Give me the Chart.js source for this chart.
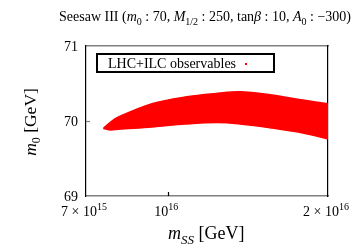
<!DOCTYPE html>
<html>
<head>
<meta charset="utf-8">
<script src="https://cdn.jsdelivr.net/npm/chart.js@4.4.1/dist/chart.umd.min.js"></script>
<style>
html,body{margin:0;padding:0;background:#fff;}
#wrap{width:361px;height:247px;position:relative;}
</style>
</head>
<body>
<div id="wrap"><canvas id="c" width="361" height="247"></canvas></div>
<script>
// ---- data ----
const mssEdge = [7.55e15, 7.8e15, 8.04e15, 9.32e15, 1.076e16, 1.241e16, 1.365e16, 1.555e16, 1.794e16, 2.0e16];
const m0Upper = [69.90, 69.99, 70.05, 70.23, 70.32, 70.37, 70.39, 70.35, 70.28, 70.23];
const m0Lower = [69.90, 69.88, 69.89, 69.92, 69.96, 69.98, 69.96, 69.91, 69.84, 69.76];
const xTickValues = [7e15, 1e16, 2e16];
const xTickLabels = [["7 \u00d7 10", "15"], ["10", "16"], ["2 \u00d7 10", "16"]];
const yTickValues = [69, 70, 71];
const yTickLabels = ["69", "70", "71"];
const seriesLabel = "LHC+ILC observables";
const titleRuns = [
  ["Seesaw III (", "r"], ["m", "i"], ["0", "sub"], [" : 70, ", "r"], ["M", "i"], ["1/2", "sub"],
  [" : 250, tan", "r"], ["\u03b2", "i"], [" : 10, ", "r"], ["A", "i"], ["0", "sub"], [" : \u2212300)", "r"]
];
const xTitleRuns = [["m", "i"], ["SS", "isub"], [" [GeV]", "r"]];
const yTitleRuns = [["m", "i"], ["0", "sub"], [" [GeV]", "r"]];

const SERIF = '"Liberation Serif", "DejaVu Serif", serif';

function runFont(kind, size) {
  if (kind === "i") return "italic " + size + "px " + SERIF;
  if (kind === "sub") return Math.round(size * 0.7) + "px " + SERIF;
  if (kind === "isub") return "italic " + Math.round(size * 0.7) + "px " + SERIF;
  if (kind === "sup") return Math.round(size * 0.7) + "px " + SERIF;
  return size + "px " + SERIF;
}
function runsWidth(ctx, runs, size) {
  let w = 0;
  for (const [t, k] of runs) { ctx.font = runFont(k, size); w += ctx.measureText(t).width; }
  return w;
}
function drawRuns(ctx, runs, x, y, size, align) {
  const w = runsWidth(ctx, runs, size);
  let cx = align === "center" ? x - w / 2 : (align === "right" ? x - w : x);
  ctx.textBaseline = "alphabetic";
  ctx.textAlign = "left";
  for (const [t, k] of runs) {
    ctx.font = runFont(k, size);
    let dy = 0;
    if (k === "sub" || k === "isub") dy = size * 0.25;
    if (k === "sup") dy = -size * 0.42;
    ctx.fillText(t, cx, y + dy);
    cx += ctx.measureText(t).width;
  }
}

const decor = {
  id: "decor",
  afterDraw(chart) {
    const ctx = chart.ctx;
    const xs = chart.scales.x, ys = chart.scales.y;
    const a = chart.chartArea;
    ctx.save();
    ctx.fillStyle = "#000";
    // title
    drawRuns(ctx, titleRuns, 205, 21, 14, "center");
    // inward ticks
    ctx.lineWidth = 1.2;
    ctx.strokeStyle = "#000";
    xTickValues.forEach(v => {
      const px = Math.round(xs.getPixelForValue(v)) + 0.5;
      if (px > a.left + 2 && px < a.right - 2) {
        ctx.beginPath(); ctx.moveTo(px, a.bottom); ctx.lineTo(px, a.bottom - 4); ctx.stroke();
      }
    });
    ctx.strokeStyle = "#808080";
    yTickValues.forEach(v => {
      const py = Math.round(ys.getPixelForValue(v)) + 0.5;
      if (py > a.top + 2 && py < a.bottom - 2) {
        ctx.beginPath(); ctx.moveTo(a.left, py); ctx.lineTo(a.left + 4, py); ctx.stroke();
      }
    });
    // x tick labels
    xTickValues.forEach((v, i) => {
      const px = xs.getPixelForValue(v);
      drawRuns(ctx, [[xTickLabels[i][0], "r"], [xTickLabels[i][1], "sup"]], px - 2, 216, 14, "center");
    });
    // y tick labels
    yTickValues.forEach((v, i) => {
      const py = ys.getPixelForValue(v);
      ctx.font = "14px " + SERIF;
      ctx.textAlign = "right";
      ctx.textBaseline = "middle";
      ctx.fillText(yTickLabels[i], 78, py + 1);
    });
    // axis titles
    drawRuns(ctx, xTitleRuns, 168, 239, 18, "left");
    ctx.save();
    ctx.translate(36, 122);
    ctx.rotate(-Math.PI / 2);
    drawRuns(ctx, yTitleRuns, 0, 0, 17.5, "center");
    ctx.restore();
    // legend box
    ctx.fillStyle = "#fff";
    ctx.fillRect(97, 54, 177, 18);
    ctx.strokeStyle = "#000";
    ctx.lineWidth = 2;
    ctx.strokeRect(97, 54, 177, 18);
    ctx.fillStyle = "#000";
    ctx.font = "14px " + SERIF;
    ctx.textAlign = "left";
    ctx.textBaseline = "alphabetic";
    ctx.fillText(seriesLabel, 108, 68);
    ctx.fillStyle = "#ff0000";
    ctx.fillRect(245, 63, 2, 2);
    ctx.restore();
  }
};

const upperPts = mssEdge.map((x, i) => ({x: x, y: m0Upper[i]}));
const lowerPts = mssEdge.map((x, i) => ({x: x, y: m0Lower[i]}));

new Chart(document.getElementById("c"), {
  type: "line",
  data: {
    datasets: [
      {label: seriesLabel, data: upperPts, borderColor: "#ff0000", borderWidth: 1.5, pointRadius: 0, fill: false, tension: 0.35},
      {label: seriesLabel + " (lower)", data: lowerPts, borderColor: "#ff0000", borderWidth: 1.5, pointRadius: 0, fill: "-1", backgroundColor: "#ff0000", tension: 0.35}
    ]
  },
  options: {
    responsive: false,
    animation: false,
    events: [],
    layout: {padding: 0},
    plugins: {legend: {display: false}, title: {display: false}, tooltip: {enabled: false}},
    scales: {
      x: {
        type: "logarithmic", position: "bottom", min: 7e15, max: 2e16,
        ticks: {display: false}, grid: {display: false},
        border: {display: true, color: "#808080", width: 1.5},
        afterFit(s) { s.height = 51; }
      },
      x2: {
        type: "linear", position: "top", min: 0, max: 1,
        ticks: {display: false}, grid: {display: false},
        border: {display: true, color: "#808080", width: 1.5},
        afterFit(s) { s.height = 46; }
      },
      y: {
        type: "linear", position: "left", min: 69, max: 71,
        ticks: {display: false}, grid: {display: false},
        border: {display: true, color: "#000", width: 1.2},
        afterFit(s) { s.width = 86; }
      },
      y2: {
        type: "linear", position: "right", min: 0, max: 1,
        ticks: {display: false}, grid: {display: false},
        border: {display: true, color: "#000", width: 1.2},
        afterFit(s) { s.width = 33; }
      }
    }
  },
  plugins: [decor]
});
</script>
</body>
</html>
